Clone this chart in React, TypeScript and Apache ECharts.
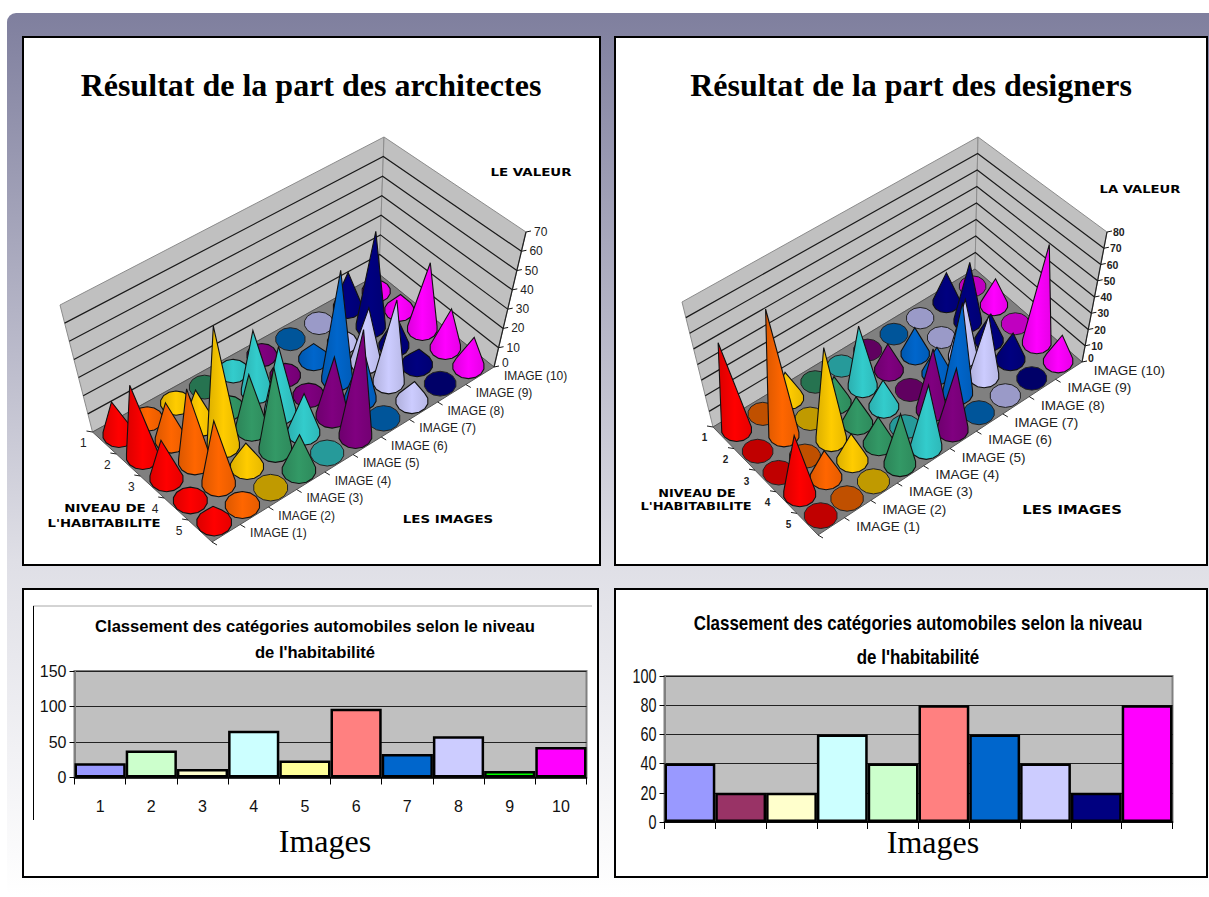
import React, { useEffect, useRef } from "react";
import * as echarts from "echarts";

const IMAGES = ["IMAGE (1)", "IMAGE (2)", "IMAGE (3)", "IMAGE (4)", "IMAGE (5)", "IMAGE (6)", "IMAGE (7)", "IMAGE (8)", "IMAGE (9)", "IMAGE (10)"];
const LEVELS = ["1", "2", "3", "4", "5"];
const CONE_COLORS = ["#ff0000", "#ff6600", "#ffcc00", "#339966", "#33cccc", "#800080", "#0066cc", "#ccccff", "#000080", "#ff00ff"];
const FLAT_COLORS = ["#c00000", "#c05000", "#c09a00", "#267350", "#269a9a", "#600060", "#00559a", "#9a9ac8", "#000068", "#c000c0"];

// rows: one per image; columns: habitability levels 1 to 5
const ARCHITECT_IMG1 = [18, 38, 20, 3, 8];
const ARCHITECT_IMG2 = [3, 20, 38, 32, 5];
const ARCHITECT_IMG3 = [5, 18, 62, 12, 0];
const ARCHITECT_IMG4 = [0, 5, 28, 42, 18];
const ARCHITECT_IMG5 = [4, 32, 34, 20, 0];
const ARCHITECT_IMG6 = [4, 4, 3, 30, 54];
const ARCHITECT_IMG7 = [0, 8, 56, 25, 0];
const ARCHITECT_IMG8 = [0, 3, 28, 42, 10];
const ARCHITECT_IMG9 = [18, 49, 15, 8, 0];
const ARCHITECT_IMG10 = [3, 8, 34, 20, 15];
const ARCHITECTS = [ARCHITECT_IMG1, ARCHITECT_IMG2, ARCHITECT_IMG3, ARCHITECT_IMG4, ARCHITECT_IMG5, ARCHITECT_IMG6, ARCHITECT_IMG7, ARCHITECT_IMG8, ARCHITECT_IMG9, ARCHITECT_IMG10];

const DESIGNER_IMG1 = [55, 0, 0, 35, 0];
const DESIGNER_IMG2 = [0, 78, 0, 16, 0];
const DESIGNER_IMG3 = [16, 0, 56, 16, 0];
const DESIGNER_IMG4 = [0, 16, 16, 16, 30];
const DESIGNER_IMG5 = [0, 37, 16, 0, 37];
const DESIGNER_IMG6 = [0, 16, 0, 37, 37];
const DESIGNER_IMG7 = [0, 16, 16, 55, 0];
const DESIGNER_IMG8 = [0, 0, 35, 37, 0];
const DESIGNER_IMG9 = [18, 36, 16, 16, 0];
const DESIGNER_IMG10 = [0, 16, 0, 60, 16];
const DESIGNERS = [DESIGNER_IMG1, DESIGNER_IMG2, DESIGNER_IMG3, DESIGNER_IMG4, DESIGNER_IMG5, DESIGNER_IMG6, DESIGNER_IMG7, DESIGNER_IMG8, DESIGNER_IMG9, DESIGNER_IMG10];

const BAR_CATEGORIES = ["1", "2", "3", "4", "5", "6", "7", "8", "9", "10"];
const BAR_LEFT_VALUES = [20, 38, 12, 66, 24, 97, 33, 58, 9, 43];
const BAR_LEFT_COLORS = ["#9999ff", "#ccffcc", "#ffffcc", "#ccffff", "#ffff99", "#ff8080", "#0066cc", "#ccccff", "#00ff00", "#ff00ff"];
const BAR_RIGHT_VALUES = [40, 20, 20, 60, 40, 80, 60, 40, 20, 80];
const BAR_RIGHT_COLORS = ["#9999ff", "#993366", "#ffffcc", "#ccffff", "#ccffcc", "#ff8080", "#0066cc", "#ccccff", "#000080", "#ff00ff"];
const BAR_RIGHT_TICKS = [0, 20, 40, 60, 80, 100];

type Pt = [number, number];
interface Scene { L: Pt; B: Pt; F: Pt; R: Pt; TL: Pt; TB: Pt; TF: Pt; TR: Pt; max: number; radius: number; imgDx: number; lvlDx: number; lvlFont: number; imgFont: number; valDx: number; valFont: number; bold: string }

const SCENE_A: Scene = {
  L: [92.5, 432], B: [379, 274], F: [212, 542], R: [494, 367],
  TL: [60, 305], TB: [384, 137], TF: [202, 400], TR: [526, 232],
  max: 70, radius: 18, imgDx: 24, lvlDx: -21, lvlFont: 12, imgFont: 12, valDx: 8, valFont: 12, bold: "normal",
};
const SCENE_B: Scene = {
  L: [713, 427], B: [975, 269], F: [818, 535], R: [1082, 362],
  TL: [682, 302], TB: [978, 137], TF: [811, 397], TR: [1107, 232],
  max: 80, radius: 17, imgDx: 25, lvlDx: -19, lvlFont: 10, imgFont: 13.5, valDx: 6, valFont: 10.5, bold: "bold",
};

const bil = (a: Pt, b: Pt, f: Pt, r: Pt, u: number, v: number): Pt => [
  (1 - u) * (1 - v) * a[0] + u * (1 - v) * b[0] + (1 - u) * v * f[0] + u * v * r[0],
  (1 - u) * (1 - v) * a[1] + u * (1 - v) * b[1] + (1 - u) * v * f[1] + u * v * r[1],
];
const project = (s: Scene, u: number, v: number, h: number): Pt => {
  const p = bil(s.L, s.B, s.F, s.R, u, v);
  const t = bil(s.TL, s.TB, s.TF, s.TR, u, v);
  return [p[0] + (t[0] - p[0]) * h, p[1] + (t[1] - p[1]) * h];
};
const hull = (pts: Pt[]): Pt[] => {
  const a = [...pts].sort((p, q) => p[0] - q[0] || p[1] - q[1]);
  const cross = (o: Pt, p: Pt, q: Pt) => (p[0] - o[0]) * (q[1] - o[1]) - (p[1] - o[1]) * (q[0] - o[0]);
  const lo: Pt[] = [];
  for (const p of a) { while (lo.length >= 2 && cross(lo[lo.length - 2], lo[lo.length - 1], p) <= 0) lo.pop(); lo.push(p); }
  const up: Pt[] = [];
  for (const p of a.slice().reverse()) { while (up.length >= 2 && cross(up[up.length - 2], up[up.length - 1], p) <= 0) up.pop(); up.push(p); }
  return lo.slice(0, -1).concat(up.slice(0, -1));
};
const shade = (hex: string, k: number) => {
  const n = parseInt(hex.slice(1), 16);
  const c = (x: number) => Math.round(x * k).toString(16).padStart(2, "0");
  return "#" + c((n >> 16) & 255) + c((n >> 8) & 255) + c(n & 255);
};

const tx = (text: string, x: number, y: number, fontSize: number, extra: any = {}) => ({
  type: "text",
  silent: true,
  style: { text, x, y, fontSize, fontFamily: "Liberation Sans", fill: "#222", textAlign: "left", textVerticalAlign: "middle", ...extra },
});

const frameSeries = (s: Scene) => ({
  type: "custom",
  coordinateSystem: "none",
  silent: true,
  z: 3,
  data: [[0]],
  renderItem: () => {
    const children: any[] = [];
    const wall = "#c0c0c0";
    children.push({ type: "polygon", shape: { points: [s.L, s.B, s.TB, s.TL] }, style: { fill: wall, stroke: "#8c8c8c", lineWidth: 1 } });
    children.push({ type: "polygon", shape: { points: [s.B, s.R, s.TR, s.TB] }, style: { fill: wall, stroke: "#8c8c8c", lineWidth: 1 } });
    children.push({ type: "polygon", shape: { points: [s.L, s.B, s.R, s.F] }, style: { fill: "#808080", stroke: "#555", lineWidth: 1 } });
    const step = 10;
    for (let val = 0; val <= s.max; val += step) {
      const h = val / s.max;
      if (val > 0 && val < s.max) {
        children.push({ type: "polyline", shape: { points: [project(s, 0, 0, h), project(s, 1, 0, h), project(s, 1, 1, h)] }, style: { stroke: "#1a1a1a", lineWidth: 1.2, fill: "none" } });
      }
      const p = project(s, 1, 1, h);
      children.push({ type: "line", shape: { x1: p[0], y1: p[1], x2: p[0] + 5, y2: p[1] - 1 }, style: { stroke: "#111", lineWidth: 1 } });
      children.push(tx(String(val), p[0] + s.valDx, p[1] - (val === 0 ? 4 : 0), s.valFont, { fontWeight: s.bold }));
    }
    children.push({ type: "polyline", shape: { points: [project(s, 1, 1, 0), project(s, 1, 1, 1)] }, style: { stroke: "#222", lineWidth: 1.2, fill: "none" } });
    IMAGES.forEach((name, i) => {
      const p = project(s, (i + 0.5) / IMAGES.length, 1, 0);
      const q = project(s, i / IMAGES.length, 1, 0);
      children.push({ type: "line", shape: { x1: q[0], y1: q[1], x2: q[0] + 5, y2: q[1] + 3 }, style: { stroke: "#222", lineWidth: 1 } });
      children.push(tx(name, p[0] + s.imgDx, p[1], s.imgFont));
    });
    LEVELS.forEach((name, l) => {
      const p = project(s, 0, (l + 0.5) / LEVELS.length, 0);
      const q = project(s, 0, l / LEVELS.length, 0);
      children.push({ type: "line", shape: { x1: q[0], y1: q[1], x2: q[0] - 6, y2: q[1] - 1 }, style: { stroke: "#222", lineWidth: 1 } });
      children.push(tx(name, p[0] + s.lvlDx, p[1], s.lvlFont, { textAlign: "center", fontWeight: s.bold }));
    });
    return { type: "group", children };
  },
});

const coneSeries = (s: Scene, matrix: number[][]) => {
  const rows: number[][] = [];
  matrix.forEach((col, i) => col.forEach((val, l) => rows.push([i, l, val])));
  rows.sort((a, b) => {
    const da = (a[0] + 0.5) / 10 - (a[1] + 0.5) / 5;
    const db = (b[0] + 0.5) / 10 - (b[1] + 0.5) / 5;
    return db - da;
  });
  return {
    type: "custom",
    coordinateSystem: "none",
    silent: true,
    z: 4,
    data: rows,
    renderItem: (_: any, api: any) => {
      const i = api.value(0), l = api.value(1), val = api.value(2);
      const u = (i + 0.5) / 10, v = (l + 0.5) / 5;
      const c = project(s, u, v, 0);
      const tip = project(s, u, v, val / s.max);
      const depth = (u + 1 - v) / 2;
      const rx = s.radius * (1 - 0.22 * depth);
      const ry = rx * 0.77;
      const ring: Pt[] = [];
      for (let k = 0; k < 14; k++) {
        const a = (k / 14) * Math.PI * 2 + 0.22;
        ring.push([c[0] + rx * Math.cos(a), c[1] + ry * Math.sin(a)]);
      }
      if (val === 0) {
        return { type: "polygon", shape: { points: ring }, style: { fill: FLAT_COLORS[i], stroke: "#222", lineWidth: 1 } };
      }
      const base = CONE_COLORS[i];
      const fill = new echarts.graphic.LinearGradient(0, 0, 1, 0, [
        { offset: 0, color: shade(base, 0.86) },
        { offset: 0.5, color: base },
        { offset: 1, color: shade(base, 0.9) },
      ]);
      return { type: "polygon", shape: { points: hull(ring.concat([tip])) }, style: { fill, stroke: "#111", lineWidth: 1.1 } };
    },
  };
};

const barSeries = (values: number[], colors: string[], gridIndex: number) => ({
  type: "bar",
  xAxisIndex: gridIndex,
  yAxisIndex: gridIndex,
  barCategoryGap: "0%",
  z: 2,
  data: values.map((value, i) => ({ value, itemStyle: { color: colors[i], borderColor: "#000", borderWidth: 2.5 } })),
});

// Condensed tick labels of the right bar chart, placed through the chart's own value axis.
const condensedTicks = (gridIndex: number, ticks: number[], gap: number, fontSize: number, squeeze: number) => ({
  type: "custom",
  coordinateSystem: "cartesian2d",
  xAxisIndex: gridIndex,
  yAxisIndex: gridIndex,
  silent: true,
  clip: false,
  z: 5,
  data: ticks.map((t) => [0, t]),
  renderItem: (params: any, api: any) => {
    const y = api.coord([0, api.value(1)])[1];
    return {
      type: "text",
      x: params.coordSys.x - gap,
      y,
      scaleX: squeeze,
      style: { text: String(api.value(1)), fontSize, fontFamily: "Liberation Sans", fill: "#111", textAlign: "right", textVerticalAlign: "middle" },
    };
  },
});

const catAxis = (gridIndex: number, show: boolean, margin: number) => ({
  type: "category",
  gridIndex,
  data: BAR_CATEGORIES,
  axisLine: { show: true, lineStyle: { color: "#000", width: 1.5 } },
  axisTick: { show: true, length: 7, alignWithLabel: false, lineStyle: { color: "#000", width: 1 } },
  axisLabel: { show, margin, fontSize: 16, color: "#111", fontFamily: "Liberation Sans" },
});
const valAxis = (gridIndex: number, max: number, interval: number, show: boolean) => ({
  type: "value",
  gridIndex,
  min: 0,
  max,
  interval,
  axisLine: { show: true, lineStyle: { color: "#808080", width: 2 } },
  axisTick: { show: true, length: 5, lineStyle: { color: "#000", width: 1 } },
  axisLabel: { show, fontSize: 16, color: "#111", margin: 8, fontFamily: "Liberation Sans" },
  splitLine: { show: true, lineStyle: { color: "#222", width: 1 } },
});

const panel = (x: number, y: number, w: number, h: number) => ({
  type: "rect", z: -2, silent: true,
  shape: { x, y, width: w, height: h },
  style: { fill: "#fff", stroke: "#000", lineWidth: 2 },
});
const gText = (text: string, x: number, y: number, font: string, scaleX = 1) => ({
  type: "text", z: 10, silent: true, x, y, scaleX,
  style: { text, font, fill: "#000", textAlign: "center", textVerticalAlign: "middle" },
});

const HEAD = "bold 11px 'DejaVu Sans'";

export default function App() {
  const ref = useRef<HTMLDivElement>(null);
  useEffect(() => {
    document.body.style.margin = "0";
    const chart = echarts.init(ref.current!, undefined, { renderer: "svg" });
    chart.setOption({
      animation: false,
      backgroundColor: "#ffffff",
      graphic: [
        {
          type: "rect", z: -3, silent: true,
          shape: { x: 7, y: 13, width: 1240, height: 884, r: 9 },
          style: {
            fill: new echarts.graphic.LinearGradient(0, 0, 0, 1, [
              { offset: 0, color: "#7f7f9e" },
              { offset: 0.62, color: "#dfdfe6" },
              { offset: 1, color: "#ffffff" },
            ]),
          },
        },
        panel(23, 37, 577, 528),
        panel(615, 37, 592, 528),
        panel(23, 589, 575, 288),
        panel(615, 589, 592, 288),
        { type: "line", z: -1, silent: true, shape: { x1: 33, y1: 606, x2: 592, y2: 606 }, style: { stroke: "#a8a8a8", lineWidth: 1 } },
        { type: "line", z: -1, silent: true, shape: { x1: 33.5, y1: 606, x2: 33.5, y2: 820 }, style: { stroke: "#000", lineWidth: 1 } },
        gText("Résultat de la part des architectes", 311, 85, "bold 32px 'Liberation Serif'"),
        gText("Résultat de la part des designers", 911, 85, "bold 32px 'Liberation Serif'"),
        gText("LE VALEUR", 531, 172, HEAD, 1.22),
        gText("LES IMAGES", 448, 519, HEAD, 1.22),
        gText("NIVEAU DE", 105, 508, HEAD, 1.22),
        gText("L'HABITABILITE", 104, 523, HEAD, 1.2),
        gText("LA VALEUR", 1140, 189, HEAD, 1.2),
        gText("LES IMAGES", 1072, 509, "bold 12.5px 'DejaVu Sans'", 1.18),
        gText("NIVEAU DE", 697, 493, HEAD, 1.16),
        gText("L'HABITABILITE", 696, 506, HEAD, 1.18),
        gText("Classement des catégories automobiles selon le niveau", 315, 626, "bold 16.6px 'Liberation Sans'"),
        gText("de l'habitabilité", 315, 652, "bold 16.6px 'Liberation Sans'"),
        gText("Images", 325, 841, "32px 'Liberation Serif'"),
        gText("Classement des catégories automobiles selon la niveau", 918, 623, "bold 20px 'Liberation Sans'", 0.847),
        gText("de l'habitabilité", 918, 657, "bold 20px 'Liberation Sans'", 0.847),
        gText("Images", 933, 842, "32px 'Liberation Serif'"),
      ],
      grid: [
        { left: 74.5, top: 671, width: 512, height: 106.5, show: true, backgroundColor: "#c0c0c0", borderColor: "#808080", borderWidth: 2 },
        { left: 664.5, top: 676, width: 508, height: 146, show: true, backgroundColor: "#c0c0c0", borderColor: "#808080", borderWidth: 2 },
      ],
      xAxis: [catAxis(0, true, 21), catAxis(1, false, 8)],
      yAxis: [valAxis(0, 150, 50, true), valAxis(1, 100, 20, false)],
      series: [
        barSeries(BAR_LEFT_VALUES, BAR_LEFT_COLORS, 0),
        barSeries(BAR_RIGHT_VALUES, BAR_RIGHT_COLORS, 1),
        condensedTicks(1, BAR_RIGHT_TICKS, 8, 20, 0.72),
        frameSeries(SCENE_A),
        coneSeries(SCENE_A, ARCHITECTS),
        frameSeries(SCENE_B),
        coneSeries(SCENE_B, DESIGNERS),
      ],
    });
    return () => chart.dispose();
  }, []);
  return <div ref={ref} style={{ position: "fixed", left: 0, top: 0, width: 1209, height: 897 }} />;
}
